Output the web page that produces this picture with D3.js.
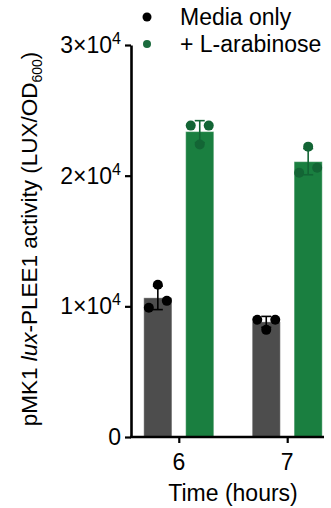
<!DOCTYPE html>
<html>
<head>
<meta charset="utf-8">
<script src="https://cdn.jsdelivr.net/npm/d3@7"></script>
<style>
  body { margin: 0; background: #fff; }
  text { font-family: "Liberation Sans", Arial, Helvetica, sans-serif; fill: #000; }
</style>
</head>
<body>
<div id="chart"></div>
<script>
// data
var times = ["6", "7"];
var groups = ["media", "ara"];
var groupLabels = ["Media only", "+ L-arabinose"];
var mediaMeans = [10650, 8810];
var araMeans = [23370, 21070];
var mediaSD = [900, 420];
var araSD = [840, 1000];
var mediaPoints = [[9890, 11650, 10420], [8970, 8200, 8970]];
var araPoints = [[23830, 22380, 23830], [20230, 22220, 20610]];
var yTicks = [0, 10000, 20000, 30000];

var barColor = {media: "#4d4d4d", ara: "#1a7f40"};
var dotColor = {media: "#000000", ara: "#136535"};
var legendDot = {media: "#000000", ara: "#1b6b3d"};

var width = 331, height = 508;
var fontSize = 23;

var svg = d3.select("#chart").append("svg")
    .attr("width", width)
    .attr("height", height);

// scales
var x = d3.scalePoint()
    .domain(times)
    .range([130, 336])
    .padding(0.45);

var xSub = d3.scaleBand()
    .domain(groups)
    .range([-35, 35])
    .paddingInner(0.33);

var y = d3.scaleLinear()
    .domain([0, 30000])
    .range([437, 45]);

// build rows
var rows = [];
times.forEach(function(t, i) {
  rows.push({time: t, group: "media", mean: mediaMeans[i], sd: mediaSD[i], pts: mediaPoints[i]});
  rows.push({time: t, group: "ara", mean: araMeans[i], sd: araSD[i], pts: araPoints[i]});
});

function cx(d) { return x(d.time) + xSub(d.group) + xSub.bandwidth() / 2; }

// bars
svg.selectAll(".bar")
    .data(rows)
  .enter().append("rect")
    .attr("class", "bar")
    .attr("x", function(d) { return x(d.time) + xSub(d.group); })
    .attr("y", function(d) { return y(d.mean); })
    .attr("width", xSub.bandwidth())
    .attr("height", function(d) { return y(0) - y(d.mean); })
    .style("fill", function(d) { return barColor[d.group]; })
    .style("stroke", "#ffffff")
    .style("stroke-opacity", 0.35)
    .style("stroke-width", 1);

// error bars (mean +/- SD)
var err = svg.selectAll(".err")
    .data(rows)
  .enter().append("g")
    .attr("class", "err")
    .style("stroke", function(d) { return dotColor[d.group]; })
    .style("stroke-width", 1.6);

err.append("line")
    .attr("x1", cx).attr("x2", cx)
    .attr("y1", function(d) { return y(d.mean + d.sd); })
    .attr("y2", function(d) { return y(d.mean - d.sd); });

err.append("line")
    .attr("x1", function(d) { return cx(d) - 5; })
    .attr("x2", function(d) { return cx(d) + 5; })
    .attr("y1", function(d) { return y(d.mean + d.sd); })
    .attr("y2", function(d) { return y(d.mean + d.sd); });

err.append("line")
    .attr("x1", function(d) { return cx(d) - 5; })
    .attr("x2", function(d) { return cx(d) + 5; })
    .attr("y1", function(d) { return y(d.mean - d.sd); })
    .attr("y2", function(d) { return y(d.mean - d.sd); });

// replicate points
var jitter = [-9, 0, 9];
var dots = [];
rows.forEach(function(d) {
  d.pts.forEach(function(v, k) {
    dots.push({group: d.group, time: d.time, value: v, k: k});
  });
});

svg.selectAll(".dot")
    .data(dots)
  .enter().append("circle")
    .attr("class", "dot")
    .attr("cx", function(d) { return cx(d) + jitter[d.k]; })
    .attr("cy", function(d) { return y(d.value); })
    .attr("r", 5)
    .style("fill", function(d) { return dotColor[d.group]; });

// y axis
var yAxis = svg.append("g")
    .attr("transform", "translate(131,0)")
    .call(d3.axisLeft(y).tickValues(yTicks).tickSize(6).tickSizeOuter(0).tickFormat(""));
yAxis.select(".domain").attr("stroke-width", 2.6);
yAxis.selectAll(".tick line").attr("stroke-width", 2.2);

var yLab = svg.selectAll(".ylab")
    .data(yTicks)
  .enter().append("text")
    .attr("class", "ylab")
    .attr("x", 121)
    .attr("y", function(d) { return y(d) + 8; })
    .attr("text-anchor", "end")
    .style("font-size", fontSize + "px");

yLab.each(function(d) {
  var t = d3.select(this);
  if (d === 0) { t.text("0"); return; }
  t.append("tspan").text((d / 10000) + "×10");
  t.append("tspan").attr("dy", -9).style("font-size", "16px").text("4");
});

// x axis
var xAxis = svg.append("g")
    .attr("transform", "translate(0,437)")
    .call(d3.axisBottom(x).tickSize(6).tickSizeOuter(0).tickFormat(""));
xAxis.select(".domain").attr("d", "M130,0H324").attr("stroke-width", 2.6);
xAxis.selectAll(".tick line").attr("stroke-width", 2.2);

svg.selectAll(".xlab")
    .data(times)
  .enter().append("text")
    .attr("class", "xlab")
    .attr("x", function(d) { return x(d); })
    .attr("y", 470)
    .attr("text-anchor", "middle")
    .style("font-size", fontSize + "px")
    .text(function(d) { return d; });

svg.append("text")
    .attr("x", 233)
    .attr("y", 501)
    .attr("text-anchor", "middle")
    .style("font-size", fontSize + "px")
    .text("Time (hours)");

// y axis title
var yTitle = svg.append("text")
    .attr("transform", "translate(37,239) rotate(-90)")
    .attr("text-anchor", "middle")
    .style("font-size", "22.5px");
yTitle.append("tspan").text("pMK1 ");
yTitle.append("tspan").style("font-style", "italic").text("lux");
yTitle.append("tspan").text("-PLEE1 activity (LUX/OD");
yTitle.append("tspan").attr("dy", 5).style("font-size", "14px").text("600");
yTitle.append("tspan").attr("dy", -5).text(")");

// legend
var legend = svg.selectAll(".legend")
    .data(groups)
  .enter().append("g")
    .attr("class", "legend")
    .attr("transform", function(d, i) { return "translate(147," + (17 + i * 27) + ")"; });

legend.append("circle")
    .attr("r", function(d) { return d === "media" ? 4.5 : 4; })
    .style("fill", function(d) { return legendDot[d]; });

legend.append("text")
    .attr("x", 33)
    .attr("y", 8)
    .style("font-size", fontSize + "px")
    .text(function(d, i) { return groupLabels[i]; });
</script>
</body>
</html>
